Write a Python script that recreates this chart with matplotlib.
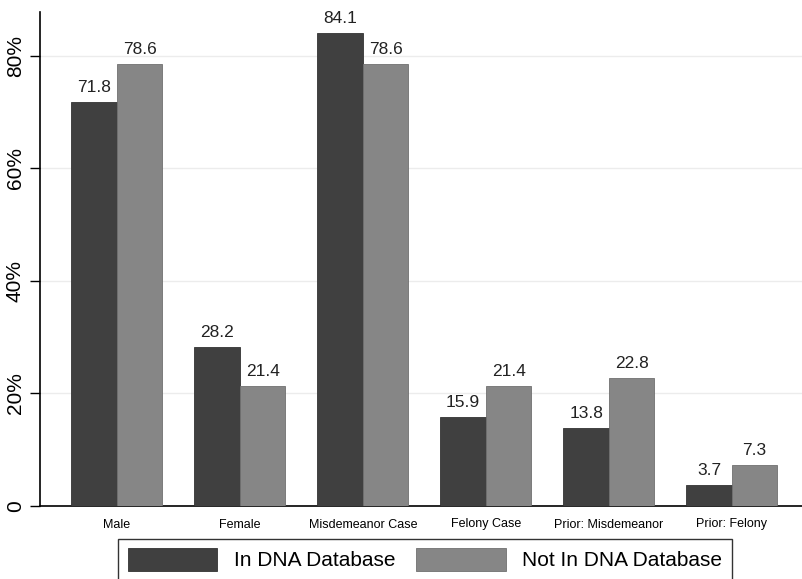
import numpy as np
import matplotlib.pyplot as plt

categories = ['Male', 'Female', 'Misdemeanor Case', 'Felony Case',
              'Prior: Misdemeanor', 'Prior: Felony']
in_db = [71.8, 28.2, 84.1, 15.9, 13.8, 3.7]
not_in_db = [78.6, 21.4, 78.6, 21.4, 22.8, 7.3]
yticks = [0, 20, 40, 60, 80]
ytick_labels = ['0', '20%', '40%', '60%', '80%']

plt.rcParams['font.family'] = ['Liberation Sans', 'DejaVu Sans']

fig = plt.figure(figsize=(8.02, 5.79), dpi=100)
ax = fig.add_axes([40/802, 73/579, 762/802, 494/579])

x = np.arange(len(categories))
w = 0.37
b1 = ax.bar(x - w/2, in_db, w, color='#404040', edgecolor='#333333', linewidth=0.6,
            label='In DNA Database', zorder=3)
b2 = ax.bar(x + w/2, not_in_db, w, color='#868686', edgecolor='#707070', linewidth=0.6,
            label='Not In DNA Database', zorder=3)
ax.bar_label(b1, fmt='%.1f', padding=5, fontsize=12.5, color='#222222')
ax.bar_label(b2, fmt='%.1f', padding=5, fontsize=12.5, color='#222222')

ax.set_xlim(-0.626, 5.57)
ax.set_ylim(0, 87.8)
ax.set_yticks(yticks)
ax.set_yticklabels(ytick_labels, rotation=90, va='center', fontsize=15)
ax.set_xticks(x)
ax.set_xticklabels(categories, fontsize=9)
ax.tick_params(axis='x', length=0, pad=9)
ax.tick_params(axis='y', length=7, width=1, pad=4)
ax.yaxis.grid(True, color='#ececec', linewidth=1.0, zorder=0)
for s in ['top', 'right']:
    ax.spines[s].set_visible(False)
ax.spines['left'].set_linewidth(1.2)
ax.spines['bottom'].set_linewidth(1.2)

leg = fig.legend(handles=[b1, b2], loc='lower center', bbox_to_anchor=(0.53, -0.02),
                 ncol=2, fontsize=15, frameon=True, fancybox=False, edgecolor='black',
                 handlelength=4.3, handleheight=1.3, columnspacing=1.0, borderpad=0.45)
leg.get_frame().set_linewidth(1.0)

fig.savefig('out.png', dpi=100)
